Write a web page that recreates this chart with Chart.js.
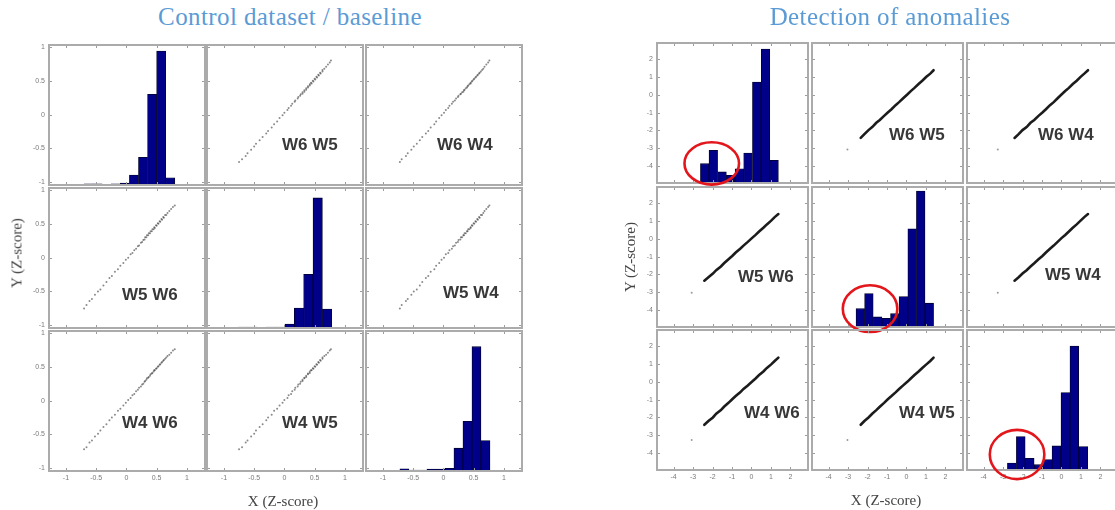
<!DOCTYPE html>
<html>
<head>
<meta charset="utf-8">
<title>Scatter matrices: control vs anomalies</title>
<script src="https://cdn.jsdelivr.net/npm/chart.js@4.4.1/dist/chart.umd.min.js"></script>
<style>
  html, body { margin: 0; padding: 0; background: #fff; }
  body { position: relative; width: 1115px; height: 510px; overflow: hidden; }
  canvas { position: absolute; }
  .txt { position: absolute; white-space: nowrap; line-height: 1; transform: translate(-50%, -50%); z-index: 2; }
  .title { font: 25px "Liberation Serif", "Times New Roman", serif; letter-spacing: 0.4px; color: #5b9bd5; }
  .axis { font: 15px "Liberation Serif", "Times New Roman", serif; color: #444; }
  .rot { transform: translate(-50%, -50%) rotate(-90deg); }
  .pair { position: absolute; white-space: nowrap; line-height: 1; transform: translateY(-50%); z-index: 2;
          font: bold 17px "Liberation Sans", Arial, sans-serif; color: #383838; }
</style>
</head>
<body>
<script>
// ---- data ----------------------------------------------------------------
var varNames = ['W6', 'W5', 'W4'];

// control dataset: samples (Z-score) per window
var ctrlW6 = [-0.70, -0.66, -0.61, -0.57, -0.52, -0.47, -0.43, -0.38, -0.33, -0.28, -0.24, -0.19, -0.14, -0.10, -0.05, -0.01,
              0.03, 0.07, 0.10, 0.13, 0.16, 0.19, 0.21, 0.24, 0.26, 0.28,
              0.30, 0.31, 0.33, 0.34, 0.36, 0.37, 0.39, 0.40, 0.42, 0.43, 0.45, 0.46, 0.47, 0.49, 0.50, 0.52, 0.53,
              0.55, 0.56, 0.58, 0.59, 0.61, 0.62, 0.64, 0.66, 0.68,
              0.71, 0.74, 0.77, 0.80];
var ctrlW5 = [-0.75, -0.70, -0.64, -0.61, -0.55, -0.50, -0.47, -0.41, -0.36, -0.30, -0.27, -0.21, -0.17, -0.12, -0.08, -0.03,
              0.00, 0.05, 0.07, 0.11, 0.13, 0.17, 0.18, 0.22, 0.23, 0.26,
              0.27, 0.30, 0.30, 0.33, 0.33, 0.36, 0.36, 0.39, 0.39, 0.42, 0.42, 0.45, 0.44, 0.48, 0.47, 0.51, 0.50,
              0.54, 0.53, 0.57, 0.56, 0.60, 0.59, 0.63, 0.63, 0.66,
              0.69, 0.72, 0.75, 0.77];
var ctrlW4 = [-0.72, -0.69, -0.62, -0.59, -0.53, -0.49, -0.44, -0.39, -0.35, -0.29, -0.25, -0.21, -0.15, -0.12, -0.07, -0.03,
              0.01, 0.04, 0.08, 0.10, 0.14, 0.16, 0.19, 0.21, 0.24, 0.25,
              0.28, 0.29, 0.31, 0.33, 0.34, 0.35, 0.37, 0.39, 0.40, 0.41, 0.43, 0.45, 0.45, 0.47, 0.48, 0.50, 0.51,
              0.53, 0.54, 0.56, 0.57, 0.59, 0.60, 0.62, 0.64, 0.66,
              0.68, 0.71, 0.74, 0.76];

// control dataset: histogram bin centres and bar heights (% of axis height)
var ctrlW6Bins = [-0.625, -0.475, -0.325, -0.175, -0.025, 0.125, 0.275, 0.425, 0.575, 0.725];
var ctrlW6Hist = [0.9, 0.9, 0.5, 0.9, 1.4, 7.1, 19.8, 64.8, 95.7, 5.2];
var ctrlW5Bins = [-0.689, -0.534, -0.379, -0.224, -0.069, 0.086, 0.241, 0.396, 0.551, 0.706];
var ctrlW5Hist = [0.7, 0.7, 0.2, 0.7, 0.7, 2.8, 14.2, 38.3, 92.9, 13.5];
var ctrlW4Bins = [-0.645, -0.496, -0.347, -0.198, -0.049, 0.100, 0.249, 0.398, 0.547, 0.696];
var ctrlW4Hist = [1.6, 0.7, 0.7, 1.4, 1.4, 1.9, 16.3, 35.5, 88.8, 21.8];

// anomaly dataset: main cloud along the diagonal, plus one isolated sample
var anomW6 = [-2.42, -2.21, -1.98, -1.81, -1.57, -1.41, -1.18, -0.99, -0.81, -0.58, -0.41, -0.19, 0.02, 0.21, 0.39, 0.61, 0.79, 1.01, 1.19, 1.38];
var anomW5 = [-2.35, -2.16, -1.95, -1.76, -1.55, -1.37, -1.15, -0.96, -0.77, -0.56, -0.38, -0.17, 0.04, 0.22, 0.41, 0.62, 0.81, 1.02, 1.22, 1.39];
var anomW4 = [-2.41, -2.20, -2.00, -1.79, -1.59, -1.40, -1.18, -0.98, -0.80, -0.59, -0.40, -0.20, 0.00, 0.19, 0.38, 0.58, 0.78, 0.98, 1.17, 1.36];
var outW6 = [-3.07];
var outW5 = [-3.03];
var outW4 = [-3.27];

var anomW6Bins = [-2.85, -2.40, -1.96, -1.51, -1.07, -0.62, -0.18, 0.27, 0.72, 1.16];
var anomW6Hist = [0.2, 13.8, 23.4, 7.9, 5.5, 10.2, 21.4, 72.1, 95.7, 16.2];
var anomW5Bins = [-2.81, -2.37, -1.93, -1.48, -1.04, -0.60, -0.16, 0.29, 0.73, 1.17];
var anomW5Hist = [0.2, 13.1, 23.9, 7.2, 6.2, 9.5, 21.8, 70.1, 97.1, 17.0];
var anomW4Bins = [-3.00, -2.55, -2.09, -1.63, -1.17, -0.71, -0.26, 0.20, 0.66, 1.12];
var anomW4Hist = [0.5, 5.0, 23.9, 8.4, 3.8, 7.4, 17.2, 55.3, 88.5, 16.7];

// circled anomaly region on each diagonal histogram (data units)
var circleX  = [-2.04, -1.87, -2.28];
var circleY  = [-3.85, -3.92, -4.08];
var circleRX = [1.40, 1.40, 1.40];
var circleRY = [1.19, 1.31, 1.38];

// axes
var ctrlRangeX = [-1.28, 1.30];
var ctrlRangeY = [-1.04, 1.03];
var ctrlTicks = [-1, -0.5, 0, 0.5, 1];
var anomRangeX = [-4.85, 2.90];
var anomRangeY = [-4.95, 2.91];
var anomTicks = [-4, -3, -2, -1, 0, 1, 2];

// ---- layout ----------------------------------------------------------------
var PAD_L = 30, PAD_R = 8, PAD_T = 12, PAD_B = 16;

var grids = [
  {
    title: 'Control dataset / baseline', titleAt: [290, 17], xLabelAt: [283, 501], yLabelAt: [17, 253],
    cols: [49, 207, 366], rows: [45, 188, 331], w: 156, h: 140,
    vals: [ctrlW6, ctrlW5, ctrlW4], outs: null,
    bins: [ctrlW6Bins, ctrlW5Bins, ctrlW4Bins], hist: [ctrlW6Hist, ctrlW5Hist, ctrlW4Hist],
    rangeX: ctrlRangeX, rangeY: ctrlRangeY, ticks: ctrlTicks, circles: false,
    labelAt: [[null, [75, 100], [71, 100]], [[73, 107], null, [77, 105]], [[73, 92], [75, 92], null]]
  },
  {
    title: 'Detection of anomalies', titleAt: [890, 17], xLabelAt: [886, 500], yLabelAt: [630, 257],
    cols: [657, 812, 967], rows: [43, 187, 330], w: 151, h: 140,
    vals: [anomW6, anomW5, anomW4], outs: [outW6, outW5, outW4],
    bins: [anomW6Bins, anomW5Bins, anomW4Bins], hist: [anomW6Hist, anomW5Hist, anomW4Hist],
    rangeX: anomRangeX, rangeY: anomRangeY, ticks: anomTicks, circles: true,
    labelAt: [[null, [77, 92], [71, 92]], [[81, 90], null, [78, 88]], [[87, 83], [87, 83], null]]
  }
];

// ---- drawing ---------------------------------------------------------------
Chart.defaults.font.family = '"Liberation Sans", Arial, sans-serif';

function pointsOf(xs, ys) {
  return xs.map(function (v, k) { return { x: v, y: ys[k] }; });
}

// MATLAB-like box: grey frame, inward ticks, optional red circle
var panelFrame = {
  id: 'panelFrame',
  afterDatasetsDraw: function (chart, args, opts) {
    var ctx = chart.ctx, a = chart.chartArea, sx = chart.scales.x, sy = chart.scales.y;
    ctx.save();
    ctx.strokeStyle = '#9c9c9c';
    ctx.lineWidth = 1;
    ctx.beginPath();
    opts.ticks.forEach(function (v) {
      var px = Math.round(sx.getPixelForValue(v)) + 0.5;
      ctx.moveTo(px, a.bottom); ctx.lineTo(px, a.bottom - 3);
      ctx.moveTo(px, a.top); ctx.lineTo(px, a.top + 3);
      var py = Math.round(sy.getPixelForValue(v)) + 0.5;
      ctx.moveTo(a.left, py); ctx.lineTo(a.left + 3, py);
      ctx.moveTo(a.right, py); ctx.lineTo(a.right - 3, py);
    });
    ctx.stroke();
    ctx.lineWidth = 2;
    ctx.strokeStyle = '#ababab';
    ctx.strokeRect(a.left, a.top, a.right - a.left, a.bottom - a.top);
    if (opts.circle) {
      var c = opts.circle;
      var cx = sx.getPixelForValue(c.x), cy = sy.getPixelForValue(c.y);
      var rx = Math.abs(sx.getPixelForValue(c.x + c.rx) - cx);
      var ry = Math.abs(sy.getPixelForValue(c.y + c.ry) - cy);
      ctx.beginPath();
      ctx.ellipse(cx, cy, rx, ry, 0, 0, Math.PI * 2);
      ctx.strokeStyle = '#e3161c';
      ctx.lineWidth = 2.6;
      ctx.stroke();
    }
    ctx.restore();
  }
};

function linearAxis(range, tickVals, show, isX) {
  return {
    type: 'linear', position: isX ? 'bottom' : 'left',
    min: range[0], max: range[1], offset: false,
    grid: { display: false, drawTicks: false, offset: false },
    border: { display: false },
    ticks: {
      display: show, font: { size: 7 }, color: '#7a7a7a', padding: isX ? 3 : 4,
      maxRotation: 0, autoSkip: false,
      callback: function (v) { return String(v); }
    },
    afterBuildTicks: function (s) { s.ticks = tickVals.map(function (v) { return { value: v }; }); },
    afterFit: function (s) { if (isX) { s.height = PAD_B; } else { s.width = PAD_L; } }
  };
}

function addText(cls, text, at) {
  var d = document.createElement('div');
  d.className = cls;
  d.textContent = text;
  d.style.left = at[0] + 'px';
  d.style.top = at[1] + 'px';
  document.body.appendChild(d);
}

grids.forEach(function (g) {
  for (var r = 0; r < 3; r++) {
    for (var c = 0; c < 3; c++) {
      var cw = g.w + PAD_L + PAD_R, ch = g.h + PAD_T + PAD_B;
      var canvas = document.createElement('canvas');
      canvas.width = cw;
      canvas.height = ch;
      canvas.style.width = cw + 'px';
      canvas.style.height = ch + 'px';
      canvas.style.left = (g.cols[c] - PAD_L) + 'px';
      canvas.style.top = (g.rows[r] - PAD_T) + 'px';
      document.body.appendChild(canvas);

      var scales = {
        x: linearAxis(g.rangeX, g.ticks, r === 2, true),
        y: linearAxis(g.rangeY, g.ticks, c === 0, false)
      };
      var frameOpts = { ticks: g.ticks, circle: null };
      var config;

      if (r === c) {
        scales.yh = { type: 'linear', display: false, min: 0, max: 100 };
        if (g.circles) {
          frameOpts.circle = { x: circleX[r], y: circleY[r], rx: circleRX[r], ry: circleRY[r] };
        }
        config = {
          type: 'bar',
          data: {
            datasets: [{
              data: pointsOf(g.bins[r], g.hist[r]),
              yAxisID: 'yh',
              backgroundColor: '#000088',
              borderColor: '#00002a',
              borderWidth: 0.8,
              barPercentage: 1,
              categoryPercentage: 1
            }]
          }
        };
      } else {
        var sets;
        if (g.outs) {
          sets = [
            { data: pointsOf(g.vals[c], g.vals[r]), showLine: true, borderColor: '#1c1c1c',
              borderWidth: 2.6, pointRadius: 0, borderCapStyle: 'round' },
            { data: pointsOf(g.outs[c], g.outs[r]), pointRadius: 1, pointBorderWidth: 0,
              pointBackgroundColor: '#9a9a9a' }
          ];
        } else {
          sets = [
            { data: pointsOf(g.vals[c], g.vals[r]), pointRadius: 1, pointBorderWidth: 0,
              pointBackgroundColor: 'rgba(60,60,60,0.6)' }
          ];
        }
        config = { type: 'scatter', data: { datasets: sets } };

        var pos = g.labelAt[r][c];
        var d = document.createElement('div');
        d.className = 'pair';
        d.textContent = varNames[r] + ' ' + varNames[c];
        d.style.left = (g.cols[c] + pos[0]) + 'px';
        d.style.top = (g.rows[r] + pos[1]) + 'px';
        document.body.appendChild(d);
      }

      config.plugins = [panelFrame];
      config.options = {
        responsive: false,
        animation: false,
        events: [],
        layout: { padding: { top: PAD_T, right: PAD_R, left: 0, bottom: 0 } },
        plugins: { legend: { display: false }, tooltip: { enabled: false }, panelFrame: frameOpts },
        scales: scales
      };
      new Chart(canvas.getContext('2d'), config);
    }
  }

  addText('txt title', g.title, g.titleAt);
  addText('txt axis', 'X (Z-score)', g.xLabelAt);
  addText('txt axis rot', 'Y (Z-score)', g.yLabelAt);
});
</script>
</body>
</html>
